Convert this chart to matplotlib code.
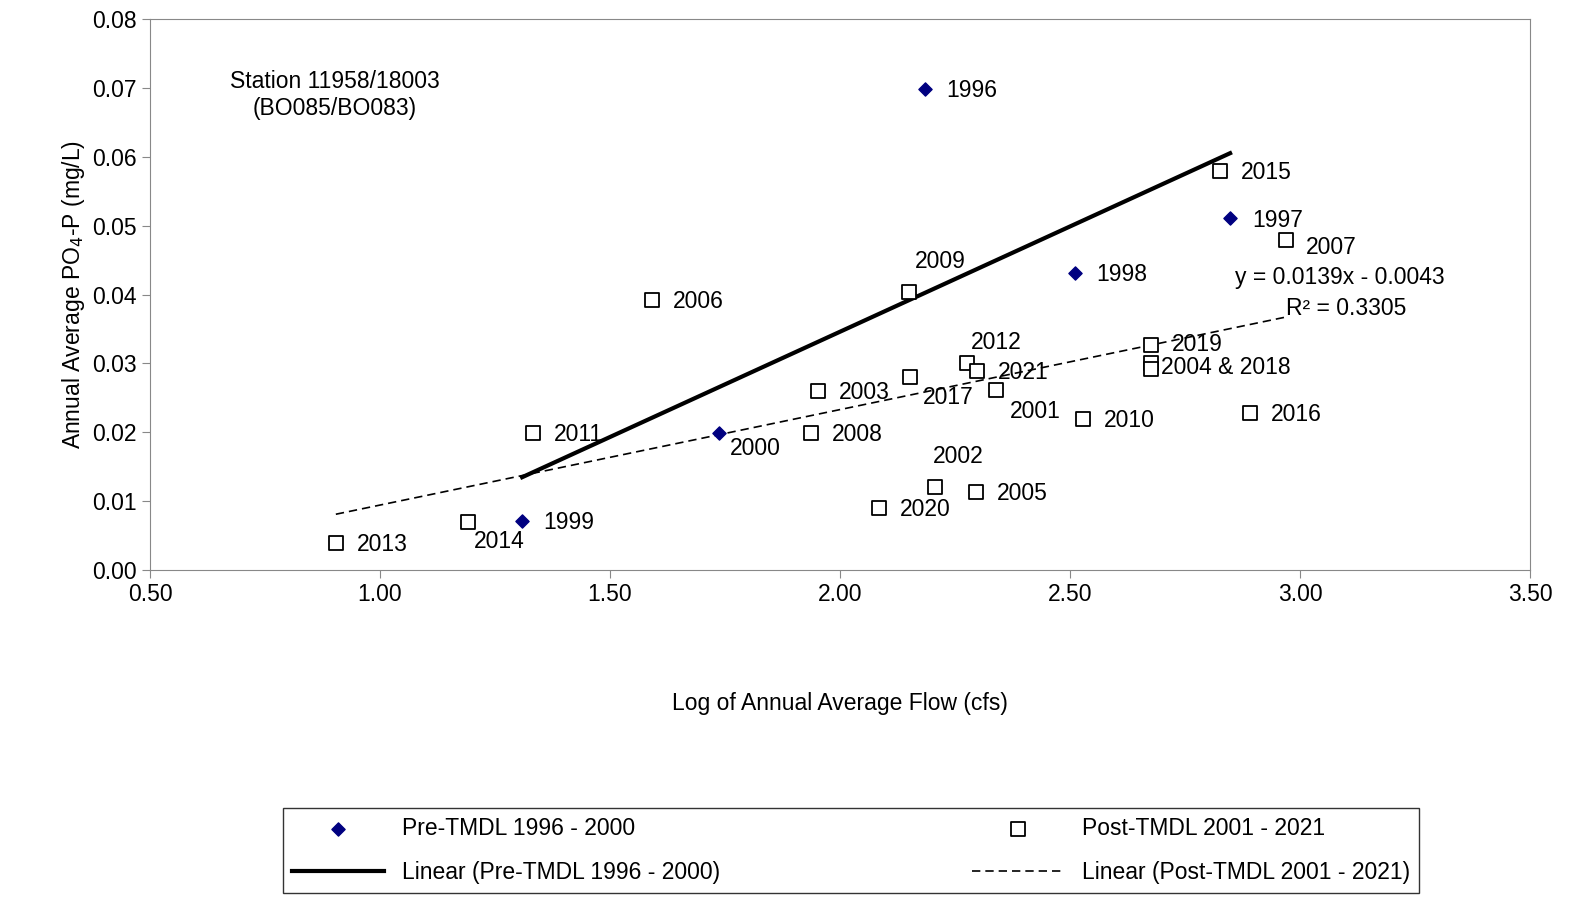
import numpy as np
import matplotlib.pyplot as plt

plt.rcParams["font.family"] = ["Liberation Sans", "DejaVu Sans"]
plt.rcParams["font.size"] = 16.5

# Pre-TMDL 1996-2000
pre_years = ["1996", "1997", "1998", "2000", "1999"]
pre_x = [2.185, 2.848, 2.511, 1.737, 1.309]
pre_y = [0.0698, 0.0511, 0.0431, 0.0199, 0.0071]

# Post-TMDL 2001-2021 (None label = not annotated)
post_years = ["2013", "2014", "2011", "2006", "2008", "2003", "2020", "2009", "2017",
              "2002", "2012", "2021", "2005", "2001", "2010", "2019", "2004 & 2018",
              None, "2016", "2015", "2007"]
post_x = [0.904, 1.191, 1.333, 1.591, 1.937, 1.952, 2.085, 2.150, 2.152,
          2.207, 2.276, 2.298, 2.296, 2.339, 2.528, 2.676, 2.676,
          2.676, 2.891, 2.826, 2.970]
post_y = [0.0039, 0.0070, 0.0199, 0.0392, 0.0199, 0.0260, 0.0090, 0.0403, 0.0280,
          0.0120, 0.0300, 0.0289, 0.0113, 0.0261, 0.0219, 0.0327, 0.0300,
          0.0292, 0.0228, 0.0579, 0.0479]

# label offsets in points (dx, dy), default (15, -1)
offsets = {"2000": (8, -11), "2014": (4, -14), "2009": (4, 22), "2017": (9, -15),
           "2002": (-2, 22), "2012": (3, 15), "2001": (10, -15), "2007": (14, -5),
           "1997": (16, -2), "2004 & 2018": (7, -3), "2019": (15, 0)}

fig = plt.figure(figsize=(15.94, 9.09), dpi=100)
ax = fig.add_axes([150 / 1594, 1 - 570 / 909, 1380 / 1594, 551 / 909])

h_pre = ax.scatter(pre_x, pre_y, marker="D", s=45, color="#000080", zorder=3,
                   label="Pre-TMDL 1996 - 2000")
h_post = ax.scatter(post_x, post_y, marker="s", s=90, facecolor="white",
                    edgecolor="black", linewidth=1.3, zorder=3,
                    label="Post-TMDL 2001 - 2021")

for yrs, xs, ys in [(pre_years, pre_x, pre_y), (post_years, post_x, post_y)]:
    for lab, x, y in zip(yrs, xs, ys):
        if lab is None:
            continue
        dx, dy = offsets.get(lab, (15, -1))
        ax.annotate(lab, (x, y), xytext=(dx, dy), textcoords="offset points",
                    va="center", ha="left")

# trendlines
p_pre = np.polyfit(pre_x, pre_y, 1)
xs = np.array([min(pre_x), max(pre_x)])
h_lpre, = ax.plot(xs, np.polyval(p_pre, xs), color="black", lw=3,
                  label="Linear (Pre-TMDL 1996 - 2000)")
p_post = np.polyfit(post_x, post_y, 1)
xs = np.array([min(post_x), max(post_x)])
h_lpost, = ax.plot(xs, np.polyval(p_post, xs), color="black", lw=1.2, ls="--",
                   dashes=(5, 3), label="Linear (Post-TMDL 2001 - 2021)")

ax.text(2.859, 0.0424, "y = 0.0139x - 0.0043", va="center")
ax.text(2.97, 0.0380, "R² = 0.3305", va="center")
ax.text(0.902, 0.0690, "Station 11958/18003\n(BO085/BO083)", ha="center", va="center")

ax.set_xlim(0.5, 3.5)
ax.set_ylim(0, 0.08)
ax.set_xticks(np.arange(0.5, 3.51, 0.5))
ax.set_xticklabels([f"{v:.2f}" for v in np.arange(0.5, 3.51, 0.5)])
ax.set_yticks(np.arange(0, 0.081, 0.01))
ax.set_yticklabels([f"{v:.2f}" for v in np.arange(0, 0.081, 0.01)])
ax.tick_params(direction="out", length=6, color="#888888")
for s in ax.spines.values():
    s.set_color("#888888")
ax.set_xlabel("Log of Annual Average Flow (cfs)", labelpad=62)
ax.set_ylabel("Annual Average PO$_4$-P (mg/L)", labelpad=4)

fig.legend(handles=[h_pre, h_lpre, h_post, h_lpost], ncol=2, loc="upper center",
           bbox_to_anchor=(851 / 1594, 1 - 808 / 909), frameon=True, fancybox=False,
           edgecolor="black", columnspacing=11, handlelength=4, borderpad=0.4,
           borderaxespad=0, labelspacing=0.9)

fig.savefig("out.png", dpi=100)
